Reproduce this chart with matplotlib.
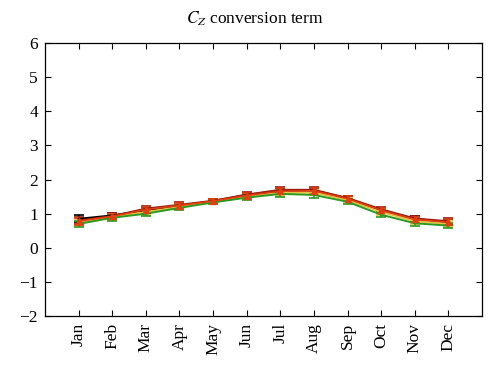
import matplotlib
matplotlib.use("Agg")
import matplotlib.pyplot as plt
import numpy as np

months = ["Jan", "Feb", "Mar", "Apr", "May", "Jun",
          "Jul", "Aug", "Sep", "Oct", "Nov", "Dec"]

black_vals = [0.85, 0.95, 1.10, 1.22, 1.37, 1.55, 1.68, 1.68, 1.45, 1.10, 0.85, 0.75]
darkred_vals = [0.80, 0.93, 1.15, 1.26, 1.38, 1.56, 1.70, 1.70, 1.46, 1.13, 0.86, 0.78]
yellow_vals = [0.75, 0.90, 1.05, 1.20, 1.35, 1.50, 1.60, 1.62, 1.40, 1.05, 0.78, 0.70]
green_vals = [0.70, 0.88, 1.00, 1.17, 1.33, 1.47, 1.58, 1.55, 1.35, 0.97, 0.72, 0.65]
red_vals = [0.78, 0.92, 1.12, 1.24, 1.37, 1.53, 1.66, 1.67, 1.44, 1.10, 0.83, 0.75]
err_vals = [0.10, 0.08, 0.08, 0.07, 0.06, 0.07, 0.08, 0.08, 0.07, 0.08, 0.08, 0.08]
y_ticks = [-2, -1, 0, 1, 2, 3, 4, 5, 6]

plt.rcParams["font.family"] = ["Liberation Serif", "DejaVu Serif"]
plt.rcParams["mathtext.fontset"] = "stix"

fig = plt.figure(figsize=(5, 3.71), dpi=100)
ax = fig.add_axes([0.09, 0.148, 0.874, 0.736])

x = np.arange(1, 13)
series = [
    (black_vals, "black"),
    (darkred_vals, "#9b1c10"),
    (yellow_vals, "#e8c040"),
    (green_vals, "#2a9a20"),
]
for vals, col in series:
    ax.errorbar(x, vals, yerr=err_vals, color=col, lw=1.4, capsize=3.5,
                elinewidth=1.1, capthick=1.2)
ax.errorbar(x, red_vals, yerr=err_vals, color="#e04010", lw=1.2, marker="^",
            markersize=5, capsize=3.5, elinewidth=1.1, capthick=1.2)

ax.set_xlim(0, 13)
ax.set_ylim(-2, 6)
ax.set_xticks(x)
ax.set_xticklabels(months, rotation=90, fontsize=12.5)
ax.set_yticks(y_ticks)
ax.set_yticklabels([str(v).replace("-", "\u2212") for v in y_ticks], fontsize=12.5)
ax.tick_params(direction="in", top=True, right=True, length=4, width=0.8, pad=5)
for s in ax.spines.values():
    s.set_linewidth(0.9)
ax.set_title("$C_Z$ conversion term", fontsize=12.5, pad=14, x=0.48)

fig.savefig("out.png", dpi=100)
